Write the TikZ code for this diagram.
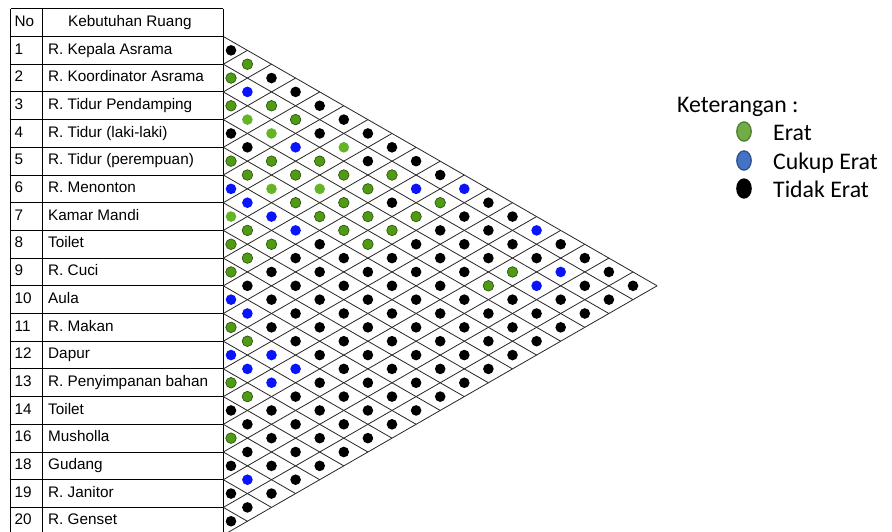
\documentclass[tikz,border=0pt]{standalone}
\usepackage{fontspec}
\setmainfont{Liberation Sans}
\newfontfamily\calib{Carlito}
\definecolor{greenD}{RGB}{80,155,20}
\definecolor{greenO}{RGB}{40,75,10}
\definecolor{greenL}{RGB}{100,180,40}
\definecolor{blueD}{RGB}{10,20,250}
\definecolor{legG}{RGB}{112,173,71}
\definecolor{legGo}{RGB}{80,126,50}
\definecolor{legB}{RGB}{68,114,196}
\definecolor{legBo}{RGB}{47,82,143}
\begin{document}
\begin{tikzpicture}[x=1pt,y=-1pt,
  gridline/.style={line width=0.8pt, black!85},
  tabline/.style={line width=0.9pt, black},
  dK/.style={fill=black},
  dG/.style={fill=greenD, draw=greenO, line width=0.6pt},
  dL/.style={fill=greenL},
  dB/.style={fill=blueD},
  cell/.style={anchor=base west, inner sep=0pt, font=\fontsize{15.3}{18}\selectfont},
  legtext/.style={anchor=base west, inner sep=0pt, font=\calib\fontsize{23.8}{28}\selectfont}
]
\useasboundingbox (0,0) rectangle (892,531);
\fill[white] (0,0) rectangle (892,531);
% table lines
\foreach \m in {0,...,19} {
  \draw[tabline] (10.5,{8.8+27.7*\m}) -- (223.3,{8.8+27.7*\m});
}
\foreach \xv in {10.5,42.7,223.3} {
  \draw[tabline] (\xv,8.8) -- (\xv,535.1);
}
% header
\node[cell] (hno) at (14.5,26.3) {No};
\node[cell] (hname) at (68,26.3) {Kebutuhan Ruang};
% rows
\foreach \n/\name [count=\k] in {1/R. Kepala Asrama,2/R. Koordinator Asrama,3/R. Tidur Pendamping,4/R. Tidur (laki-laki),5/R. Tidur (perempuan),6/R. Menonton,7/Kamar Mandi,8/Toilet,9/R. Cuci,10/Aula,11/R. Makan,12/Dapur,13/R. Penyimpanan bahan,14/Toilet,16/Musholla,18/Gudang,19/R. Janitor,20/R. Genset} {
  \node[cell] (no\k) at (14.5,{36.5+27.7*\k-10.2}) {\n};
  \node[cell] (name\k) at (48,{36.5+27.7*\k-10.2}) {\name};
}
% grid
\foreach \k in {0,...,18} {
  \draw[gridline] (223.3,{36.5+27.7*\k}) -- ++({24.1*(18-\k)},{13.85*(18-\k)});
  \ifnum\k>0
  \draw[gridline] (223.3,{36.5+27.7*\k}) -- ++({24.1*\k},{-13.85*\k});
  \fi
}
% dots
\foreach \s/\cols in {2/{dK},3/{dG},4/{dG,dK},5/{dB,dK},6/{dG,dG,dK},7/{dL,dG,dK},8/{dK,dL,dK,dK},9/{dK,dB,dL,dK},10/{dG,dG,dG,dK,dK},11/{dG,dG,dG,dG,dK},12/{dB,dL,dL,dG,dB,dB},13/{dB,dG,dG,dK,dG,dK},14/{dL,dB,dG,dG,dG,dK,dK},15/{dG,dB,dG,dG,dK,dK,dB},16/{dG,dG,dK,dG,dK,dK,dK,dK},17/{dG,dK,dK,dK,dK,dK,dK,dK},18/{dG,dK,dK,dK,dK,dK,dG,dB,dK},19/{dK,dK,dK,dK,dK,dG,dB,dK,dK},20/{dB,dK,dK,dK,dK,dK,dK,dK,dK},21/{dB,dK,dK,dK,dK,dK,dK,dK},22/{dG,dK,dK,dK,dK,dK,dK,dK},23/{dG,dK,dK,dK,dK,dK,dK},24/{dB,dB,dK,dK,dK,dK,dK},25/{dB,dB,dK,dK,dK,dK},26/{dG,dB,dK,dK,dK,dK},27/{dG,dK,dK,dK,dK},28/{dK,dK,dK,dK,dK},29/{dK,dK,dK,dK},30/{dG,dK,dK,dK},31/{dK,dK,dK},32/{dK,dK,dK},33/{dB,dK},34/{dK,dK},35/{dK},36/{dK}} {
  \pgfmathtruncatemacro\dstart{mod(\s,2)}
  \foreach \st [count=\n from 0] in \cols {
    \pgfmathtruncatemacro\dd{\dstart+2*\n}
    \pgfmathsetmacro\xx{\dd==0 ? 231 : 223.3+24.1*\dd}
    \pgfmathsetmacro\yy{36.5+13.85*(\s-1)}
    \path[\st] (\xx,\yy) circle[radius=5.3];
  }
}
% legend
\node[legtext] (ket) at (677,112) {Keterangan :};
\draw[fill=legG, draw=legGo, line width=1.3pt] (744,131.5) ellipse [x radius=7.2, y radius=9.6];
\node[legtext] (erat) at (773,140) {Erat};
\draw[fill=legB, draw=legBo, line width=1.3pt] (744,160.5) ellipse [x radius=7.2, y radius=9.6];
\node[legtext] (cukup) at (773,169) {Cukup Erat};
\fill[black] (744,188.5) ellipse [x radius=7.8, y radius=10.2];
\node[legtext] (tidak) at (773,197) {Tidak Erat};
\end{tikzpicture}
\end{document}
